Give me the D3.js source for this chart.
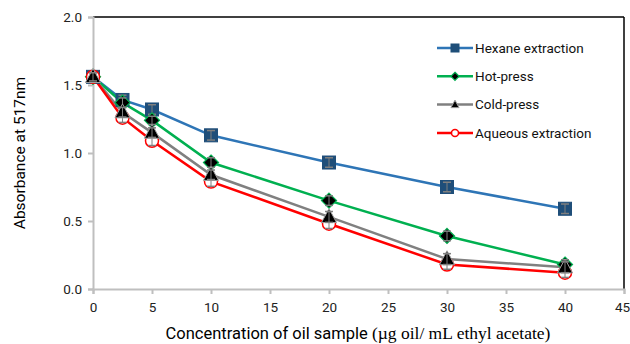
<!DOCTYPE html>
<html lang="en">
<head>
	<meta charset="utf-8">
	<title>Absorbance</title>
	<script src="https://d3js.org/d3.v7.min.js"></script>
	<style>
		body { margin: 0; background: #fff; font-family: Roboto, "Open Sans", sans-serif; }
		.tick text { font-size: 13.5px; fill: #222; font-family: Roboto, sans-serif; }
		.axis path, .axis line { stroke: #bfbfbf; stroke-width: 2; }
		.legend text { font-size: 13.5px; fill: #111; font-family: Roboto, sans-serif; }
	</style>
</head>
<body>
<div id="vis"></div>
<script>
/* Data */
var concentrations = [0, 2.5, 5, 10, 20, 30, 40];
var seriesNames = ["Hexane extraction", "Hot-press", "Cold-press", "Aqueous extraction"];
var hexane = [1.56, 1.39, 1.32, 1.13, 0.93, 0.75, 0.59];
var hotPress = [1.56, 1.37, 1.24, 0.93, 0.65, 0.39, 0.18];
var coldPress = [1.56, 1.30, 1.15, 0.84, 0.53, 0.22, 0.16];
var aqueous = [1.56, 1.26, 1.09, 0.79, 0.48, 0.18, 0.12];
var errHexane = [0.03, 0.035, 0.035, 0.035, 0.035, 0.035, 0.035];
var errHot = [0.03, 0.035, 0.03, 0.035, 0.035, 0.035, 0.035];
var errCold = [0.03, 0.035, 0.035, 0.035, 0.04, 0.04, 0.04];
var errAqueous = [0.03, 0.035, 0.035, 0.035, 0.035, 0.035, 0.035];
var xTicks = [0, 5, 10, 15, 20, 25, 30, 35, 40, 45];
var yTicks = [0, 0.5, 1.0, 1.5, 2.0];

var styles = [
	{ line: "#2e75b6", shape: "square", fill: "#1f4e79", stroke: "#1f4e79" },
	{ line: "#00b050", shape: "diamond", fill: "#000", stroke: "#00b050" },
	{ line: "#808080", shape: "triangle", fill: "#000", stroke: "#a0a0a0" },
	{ line: "#ff0000", shape: "circle", fill: "#fff", stroke: "#ff0000" }
];
var values = [hexane, hotPress, coldPress, aqueous];
var errors = [errHexane, errHot, errCold, errAqueous];

var series = seriesNames.map(function (name, i) {
	return {
		name: name,
		style: styles[i],
		points: concentrations.map(function (c, j) {
			return { x: c, y: values[i][j], e: errors[i][j] };
		})
	};
});
// marker stacking: circles sit under the triangles
var markerOrder = [series[0], series[1], series[3], series[2]];

/* Set up */
var W = 630, H = 344;
var margin = { top: 17, left: 93, right: 6, bottom: 55 };
var height = H - margin.top - margin.bottom;

var svg = d3.select("#vis").append("svg")
	.attr("width", W).attr("height", H);
var g = svg.append("g")
	.attr("transform", "translate(" + margin.left + "," + margin.top + ")");

var x = d3.scaleLinear().domain([0, 45]).range([0, 531]);
var y = d3.scaleLinear().domain([0, 2]).range([height, 0]);

/* Frame: top and right borders */
g.append("line").attr("x1", 0).attr("x2", x(45)).attr("y1", 0).attr("y2", 0)
	.attr("stroke", "#000").attr("stroke-width", 1.5);
g.append("line").attr("x1", x(45)).attr("x2", x(45)).attr("y1", 0).attr("y2", height)
	.attr("stroke", "#000").attr("stroke-width", 1.5);

/* Axes */
var xAxisG = g.append("g").attr("class", "axis")
	.attr("transform", "translate(0," + height + ")")
	.call(d3.axisBottom(x).tickValues(xTicks).tickSizeOuter(0).tickSize(5).tickPadding(8));
// keep the last label inside the window
xAxisG.selectAll(".tick text").filter(function (d) { return d === 45; }).attr("dx", "-0.15em");
g.append("g").attr("class", "axis")
	.call(d3.axisLeft(y).tickValues(yTicks).tickFormat(d3.format(".1f")).tickSizeOuter(0).tickSize(5).tickPadding(6));

/* Axis titles */
var xt = svg.append("text")
	.attr("x", 358).attr("y", 339)
	.attr("text-anchor", "middle");
xt.append("tspan").style("font-family", "Roboto, sans-serif").style("font-size", "16.5px").text("Concentration of oil sample ");
xt.append("tspan").style("font-family", "'Liberation Serif', serif").style("font-size", "17.5px").text("(\u00b5g oil/ mL ethyl acetate)");

svg.append("text")
	.attr("transform", "translate(25,153) rotate(-90)")
	.attr("text-anchor", "middle")
	.style("font-size", "15.5px")
	.style("font-family", "Roboto, sans-serif")
	.text("Absorbance at 517nm");

/* Markers */
function drawMarker(sel, st, s) {
	if (st.shape === "circle") {
		sel.append("circle").attr("r", s * 0.5)
			.attr("fill", st.fill).attr("stroke", st.stroke).attr("stroke-width", 1.5);
	} else if (st.shape === "square") {
		sel.append("rect").attr("x", -s / 2).attr("y", -s / 2).attr("width", s).attr("height", s)
			.attr("fill", st.fill).attr("stroke", st.stroke);
	} else if (st.shape === "diamond") {
		var h = s * 0.58;
		sel.append("path").attr("d", "M0," + (-h) + "L" + h + ",0L0," + h + "L" + (-h) + ",0Z")
			.attr("fill", st.fill).attr("stroke", st.stroke).attr("stroke-width", 1.2);
	} else {
		var w = s * 0.58;
		sel.append("path").attr("d", "M0," + (-w * 1.1) + "L" + w + "," + (w * 0.75) + "L" + (-w) + "," + (w * 0.75) + "Z")
			.attr("fill", st.fill).attr("stroke", st.stroke).attr("stroke-width", 1);
	}
}

var line = d3.line().x(function (d) { return x(d.x); }).y(function (d) { return y(d.y); });

g.selectAll(".series").data(series).enter().append("path")
	.attr("class", "series")
	.attr("d", function (d) { return line(d.points); })
	.attr("fill", "none")
	.attr("stroke", function (d) { return d.style.line; })
	.attr("stroke-width", 2.5);

markerOrder.forEach(function (s) {
	var mg = g.append("g");
	mg.selectAll(".pt").data(s.points).enter().append("g")
		.attr("class", "pt")
		.attr("transform", function (d) { return "translate(" + x(d.x) + "," + y(d.y) + ")"; })
		.each(function () { drawMarker(d3.select(this), s.style, 13); });

	/* Error bars, on top of markers */
	var eb = mg.selectAll(".err").data(s.points).enter().append("g").attr("class", "err");
	eb.append("line")
		.attr("x1", function (d) { return x(d.x); }).attr("x2", function (d) { return x(d.x); })
		.attr("y1", function (d) { return y(d.y + d.e); }).attr("y2", function (d) { return y(d.y - d.e); })
		.attr("stroke", "#7f7f7f").attr("stroke-width", 1);
	[1, -1].forEach(function (k) {
		eb.append("line")
			.attr("x1", function (d) { return x(d.x) - 4; }).attr("x2", function (d) { return x(d.x) + 4; })
			.attr("y1", function (d) { return y(d.y + k * d.e); }).attr("y2", function (d) { return y(d.y + k * d.e); })
			.attr("stroke", "#7f7f7f").attr("stroke-width", 1.5);
	});
});

/* Legend */
var legend = svg.append("g").attr("class", "legend")
	.attr("transform", "translate(437,48)");
var li = legend.selectAll(".li").data(series).enter().append("g")
	.attr("class", "li")
	.attr("transform", function (d, i) { return "translate(0," + (i * 28.3) + ")"; });
li.append("line").attr("x1", 0).attr("x2", 36).attr("y1", 0).attr("y2", 0)
	.attr("stroke", function (d) { return d.style.line; }).attr("stroke-width", 2.5);
li.append("g").attr("transform", "translate(18,0)")
	.each(function (d) { drawMarker(d3.select(this), d.style, d.style.shape === "square" ? 8 : 7); });
li.append("text").attr("x", 38).attr("y", 0).attr("dy", "0.35em")
	.text(function (d) { return d.name; });
</script>
</body>
</html>
